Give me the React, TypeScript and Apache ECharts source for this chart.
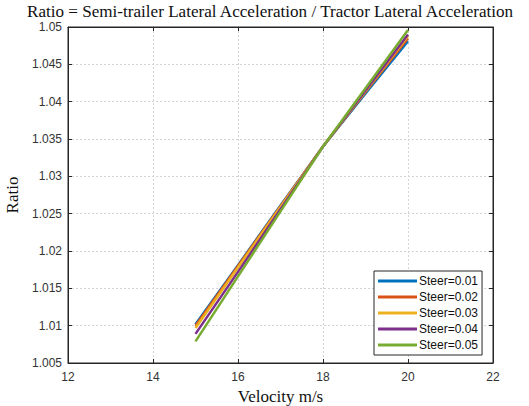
import React, { useEffect, useRef } from "react";
import * as echarts from "echarts";

const velocity = [15, 16, 17, 18, 19, 20];
const seriesNames = ["Steer=0.01", "Steer=0.02", "Steer=0.03", "Steer=0.04", "Steer=0.05"];
const steer001 = [1.0102, 1.0181, 1.0261, 1.034, 1.0411, 1.0481];
const steer002 = [1.01, 1.018, 1.026, 1.034, 1.0413, 1.0485];
const steer003 = [1.0097, 1.0178, 1.0259, 1.034, 1.0414, 1.0488];
const steer004 = [1.0089, 1.0172, 1.0256, 1.034, 1.0415, 1.049];
const steer005 = [1.0079, 1.0166, 1.0253, 1.034, 1.0418, 1.0496];
const colors = ["#0072BD", "#D95319", "#EDB120", "#7E2F8E", "#77AC30"];

const titleText = "Ratio = Semi-trailer Lateral Acceleration / Tractor Lateral Acceleration";
const xName = "Velocity m/s";
const yName = "Ratio";

const serif = "'Liberation Serif', 'DejaVu Serif', serif";
const sans = "'Liberation Sans', Arial, sans-serif";

export default function App() {
  const ref = useRef<HTMLDivElement>(null);
  useEffect(() => {
    if (!ref.current) return;
    const chart = echarts.init(ref.current, undefined, { renderer: "svg" });
    const allData = [steer001, steer002, steer003, steer004, steer005];
    const axisColor = "#262626";
    const fmt = (v: number) => parseFloat(v.toFixed(3)).toString();
    chart.setOption({
      animation: false,
      backgroundColor: "#ffffff",
      title: {
        text: titleText,
        left: 27,
        top: 0,
        padding: [3, 0, 0, 0],
        textStyle: { fontFamily: serif, fontSize: 17.1, fontWeight: "normal", color: "#111", lineHeight: 17 },
      },
      grid: {
        left: 68,
        top: 27,
        width: 425,
        height: 336,
        containLabel: false,
        outerBoundsMode: "none",
        show: true,
        borderColor: axisColor,
        borderWidth: 1,
      },
      legend: {
        orient: "vertical",
        left: 374,
        top: 271,
        icon: "rect",
        itemWidth: 39,
        itemHeight: 3,
        itemGap: 2,
        padding: [3, 4, 3, 4],
        borderColor: axisColor,
        borderWidth: 1,
        backgroundColor: "#fff",
        selectedMode: false,
        textStyle: { fontFamily: sans, fontSize: 12, color: "#111", lineHeight: 14, padding: [0, 0, 0, -3] },
        data: seriesNames,
      },
      xAxis: [
        {
          type: "value",
          min: 12,
          max: 22,
          interval: 2,
          name: xName,
          nameLocation: "middle",
          nameGap: 23,
          nameTextStyle: { fontFamily: serif, fontSize: 17, color: "#111" },
          axisLine: { show: true, lineStyle: { color: axisColor } },
          axisTick: { show: true, inside: true, length: 4, lineStyle: { color: axisColor } },
          axisLabel: { fontFamily: sans, fontSize: 12, color: "#333", margin: 8 },
          splitLine: { show: true, lineStyle: { color: "#d4d4d4", type: [2, 2] } },
        },
        {
          type: "value",
          position: "top",
          min: 12,
          max: 22,
          interval: 2,
          axisLine: { show: true, lineStyle: { color: axisColor } },
          axisTick: { show: true, inside: true, length: 4, lineStyle: { color: axisColor } },
          axisLabel: { show: false },
          splitLine: { show: false },
        },
      ],
      yAxis: [
        {
          type: "value",
          min: 1.005,
          max: 1.05,
          interval: 0.005,
          name: yName,
          nameLocation: "middle",
          nameGap: 44,
          nameRotate: 90,
          nameTextStyle: { fontFamily: serif, fontSize: 17, color: "#111" },
          axisLine: { show: true, lineStyle: { color: axisColor } },
          axisTick: { show: true, inside: true, length: 4, lineStyle: { color: axisColor } },
          axisLabel: { fontFamily: sans, fontSize: 12, color: "#333", margin: 6, formatter: fmt },
          splitLine: { show: true, lineStyle: { color: "#d4d4d4", type: [2, 2] } },
        },
        {
          type: "value",
          position: "right",
          min: 1.005,
          max: 1.05,
          interval: 0.005,
          axisLine: { show: true, lineStyle: { color: axisColor } },
          axisTick: { show: true, inside: true, length: 4, lineStyle: { color: axisColor } },
          axisLabel: { show: false },
          splitLine: { show: false },
        },
      ],
      series: seriesNames.map((name, i) => ({
        name,
        type: "line",
        xAxisIndex: 0,
        yAxisIndex: 0,
        data: velocity.map((v, j) => [v, allData[i][j]]),
        showSymbol: false,
        symbol: "none",
        lineStyle: { width: 2.5, color: colors[i] },
        itemStyle: { color: colors[i] },
      })),
    });
    return () => chart.dispose();
  }, []);
  return <div ref={ref} style={{ position: "fixed", left: 0, top: 0, width: 529, height: 406 }} />;
}
